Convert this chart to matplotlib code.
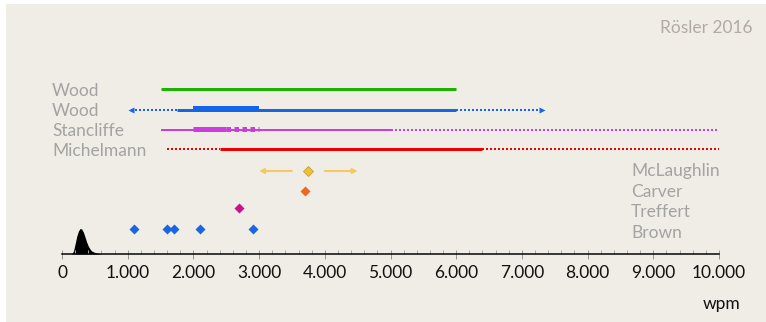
import matplotlib
matplotlib.use("Agg")
import matplotlib.pyplot as plt
from matplotlib.patches import Rectangle
from matplotlib.transforms import blended_transform_factory

# ---------------- data ----------------
left_labels = ["Wood", "Wood", "Stancliffe", "Michelmann"]
right_labels = ["McLaughlin", "Carver", "Treffert", "Brown"]

wood1_solid = [1500, 6000]

wood2_dotted_low = [1050, 1750]
wood2_solid = [1750, 6000]
wood2_thick = [2000, 3000]
wood2_dotted_high = [6000, 7300]

stan_solid = [1500, 5000]
stan_thick = [2000, 2500]
stan_thick_dotted = [2500, 3000]
stan_dotted = [5000, 10000]

mich_dotted_low = [1600, 2400]
mich_solid = [2400, 6400]
mich_dotted_high = [6400, 10000]

mclaughlin = 3750
mclaughlin_arrow_left = [3500, 3000]
mclaughlin_arrow_right = [4000, 4500]
carver = 3700
treffert = 2700
brown = [1100, 1600, 1700, 2100, 2900]

# normal reading speed density (wpm, relative density)
dens_x = [150, 175, 200, 225, 250, 275, 300, 325, 350, 375, 400, 425, 450, 500, 550, 600]
dens_y = [0.0, 0.12, 0.40, 0.70, 0.90, 1.0, 0.98, 0.86, 0.67, 0.47, 0.31, 0.20, 0.12, 0.06, 0.025, 0.0]

tick_values = [0, 1000, 2000, 3000, 4000, 5000, 6000, 7000, 8000, 9000, 10000]
tick_labels = ["0", "1.000", "2.000", "3.000", "4.000", "5.000", "6.000",
               "7.000", "8.000", "9.000", "10.000"]

# ---------------- style ----------------
W, H = 766, 322
BG = "#f0ede6"
GREY = "#a3a3a3"
FONT = ["Lato", "DejaVu Sans"]
plt.rcParams["font.family"] = FONT
FS = 12.5

fig = plt.figure(figsize=(W / 100, H / 100), dpi=100)
fig.patch.set_facecolor("white")
fig.add_artist(Rectangle((6 / W, 0), 1 - 6 / W, 1 - 4 / H, transform=fig.transFigure,
                         facecolor=BG, edgecolor="none", zorder=-10))

ax = fig.add_axes([62 / W, 68 / H, 657 / W, 200 / H])
ax.set_facecolor("none")
ax.set_xlim(0, 10000)
ax.set_ylim(0, 200)

def px(p):
    return p * 0.72

# row heights (pixels above axis line)
y_wood1, y_wood2, y_stan, y_mich = 165, 144, 124, 105
y_mcl, y_car, y_tre, y_bro = 83, 63, 46, 25

GREEN = "#1db100"
BLUE = "#1565e6"
MAG = "#cb3ddd"
RED = "#ee0000"

dot = (0, (1, 1))

# Wood (green)
ax.plot(wood1_solid, [y_wood1] * 2, color=GREEN, lw=px(3), solid_capstyle="butt")

# Wood (blue)
ax.plot(wood2_dotted_low, [y_wood2] * 2, color=BLUE, lw=px(2), linestyle=dot, dash_capstyle="butt")
ax.plot(wood2_solid, [y_wood2] * 2, color=BLUE, lw=px(3), solid_capstyle="butt")
ax.plot(wood2_thick, [y_wood2 + 1.5] * 2, color=BLUE, lw=px(6), solid_capstyle="butt")
ax.plot(wood2_dotted_high, [y_wood2] * 2, color=BLUE, lw=px(2), linestyle=dot, dash_capstyle="butt")
ax.plot([wood2_dotted_low[0]], [y_wood2], marker="<", color=BLUE, ms=4, mec="none")
ax.plot([wood2_dotted_high[1]], [y_wood2], marker=">", color=BLUE, ms=4, mec="none")

# Stancliffe (magenta)
ax.plot(stan_solid, [y_stan] * 2, color=MAG, lw=px(2), solid_capstyle="butt")
ax.plot(stan_thick, [y_stan + 1.5] * 2, color=MAG, lw=px(5), solid_capstyle="butt")
ax.plot(stan_thick_dotted, [y_stan + 1.5] * 2, color=MAG, lw=px(5),
        linestyle=(0, (0.9, 0.7)), dash_capstyle="butt")
ax.plot(stan_dotted, [y_stan] * 2, color=MAG, lw=px(2), linestyle=dot, dash_capstyle="butt")

# Michelmann (red)
ax.plot(mich_dotted_low, [y_mich] * 2, color=RED, lw=px(2), linestyle=dot, dash_capstyle="butt")
ax.plot(mich_solid, [y_mich] * 2, color=RED, lw=px(3), solid_capstyle="butt")
ax.plot(mich_dotted_high, [y_mich] * 2, color=RED, lw=px(2), linestyle=dot, dash_capstyle="butt")

# McLaughlin
ARROWC = "#f5c860"
for seg in (mclaughlin_arrow_left, mclaughlin_arrow_right):
    ax.annotate("", xy=(seg[1], y_mcl), xytext=(seg[0], y_mcl),
                arrowprops=dict(arrowstyle="-|>", color=ARROWC, lw=px(2),
                                mutation_scale=7, shrinkA=0, shrinkB=0))
ax.plot([mclaughlin], [y_mcl], marker="D", ms=5.5, color="#f0c030", mec="#c8a040", mew=0.6)

# Carver, Treffert, Brown
ax.plot([carver], [y_car], marker="D", ms=5, color="#ee6622", mec="none")
ax.plot([treffert], [y_tre], marker="D", ms=5, color="#cc1188", mec="none")
ax.plot(brown, [y_bro] * len(brown), linestyle="none", marker="D", ms=5, color="#1a66e0", mec="none")

# density
dmax = 25.5
ax.fill_between(dens_x, [v * dmax for v in dens_y], 0, color="black", lw=0)

# text labels
tf_left = blended_transform_factory(fig.transFigure, ax.transData)
for lab, yy in zip(left_labels, [y_wood1 - 1.5, y_wood2 - 1.5, y_stan - 1.5, y_mich - 1.5]):
    ax.text(52 / W, yy, lab, transform=tf_left, ha="left", va="center",
            fontsize=FS, color=GREY)
for lab, yy in zip(right_labels, [y_mcl, y_car - 1, y_tre - 4, y_bro - 3.5]):
    ax.text(631 / W, yy, lab, transform=tf_left, ha="left", va="center",
            fontsize=FS, color=GREY)

fig.text(752 / W, 1 - 28 / H, "Rösler 2016", ha="right", va="center",
         fontsize=FS, color="#b3aaa3")
fig.text(740 / W, 1 - 304 / H, "wpm", ha="right", va="center",
         fontsize=FS, color="#111111")

# axis
for s in ("top", "left", "right"):
    ax.spines[s].set_visible(False)
ax.spines["bottom"].set_color("black")
ax.spines["bottom"].set_linewidth(px(1.5))
ax.set_yticks([])
ax.set_xticks(tick_values)
ax.set_xticklabels(tick_labels)
ax.set_xticks(list(range(0, 10001, 200)), minor=True)
ax.tick_params(axis="x", which="major", direction="inout", length=px(9), width=px(1),
               color="#999999", labelsize=FS, labelcolor="#111111", pad=px(6))
ax.tick_params(axis="x", which="minor", direction="in", length=px(4.5), width=px(1),
               color="#aaaaaa")

fig.savefig("out.png", dpi=100, facecolor=fig.get_facecolor())
